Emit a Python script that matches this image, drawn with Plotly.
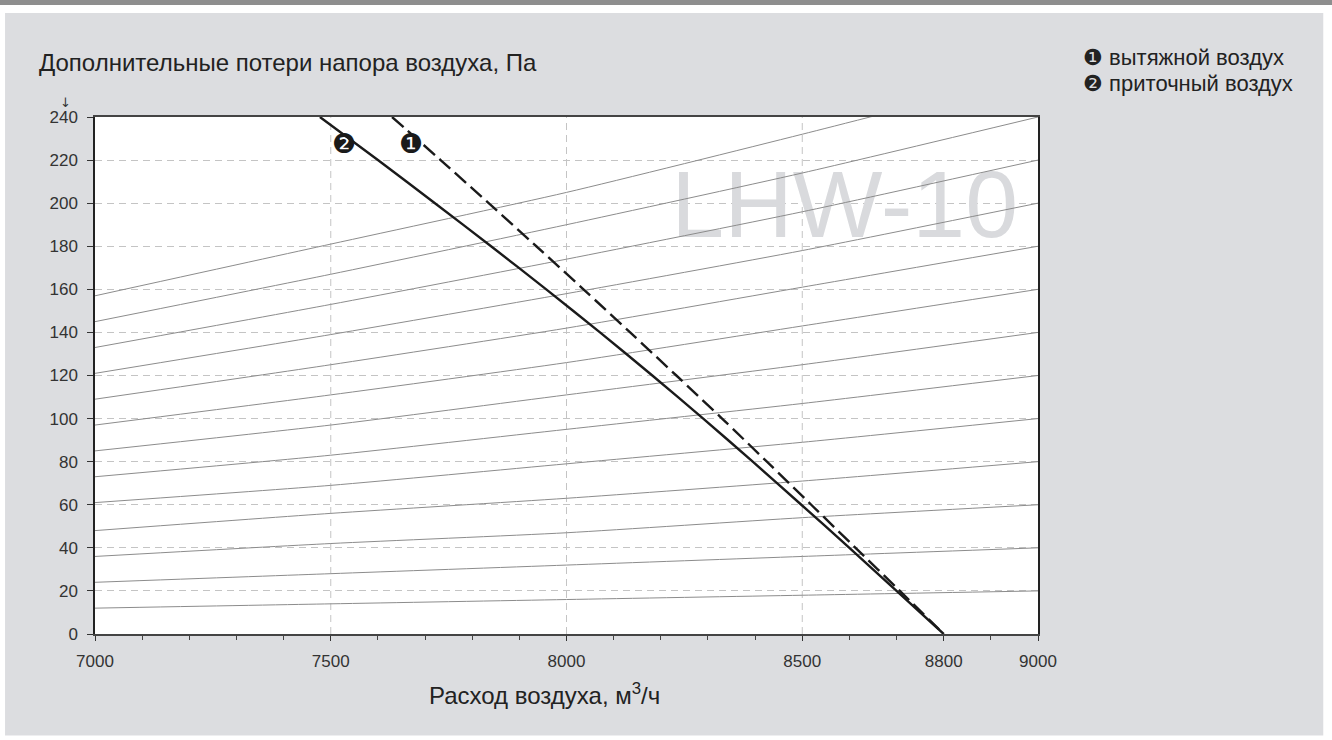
import numpy as np
import plotly.graph_objects as go

# ---------------- data ----------------
# Pressure levels (Pa) at which the two fan curves were read
P_LEVELS = [240, 220, 200, 180, 160, 140, 120, 100, 80, 60, 40, 20, 0]
# Curve 1: exhaust air (dashed) - air flow m3/h at each pressure level
Q_EXHAUST = [7630, 7733, 7835, 7936, 8036, 8135, 8233, 8330, 8425, 8519, 8613, 8707, 8800]
# Curve 2: supply air (solid)
Q_SUPPLY = [7477, 7600, 7721, 7840, 7957, 8071, 8182, 8290, 8395, 8498, 8600, 8700, 8800]

# Thin grey system curves, read at these air flows
Q_SYS = [7000, 7500, 8000, 8500, 9000]
SYSTEM_CURVES = [
    [12, 14, 16, 18, 20],
    [24, 28, 32, 36, 40],
    [36, 42, 47, 54, 60],
    [48, 56, 63, 71, 80],
    [61, 69, 79, 89, 100],
    [73, 83, 95, 107, 120],
    [85, 97, 111, 125, 140],
    [97, 111, 126, 143, 160],
    [109, 125, 142, 161, 180],
    [121, 139, 158, 178, 200],
    [133, 153, 174, 196, 220],
    [145, 167, 190, 214, 240],
    [157, 181, 205, 232, 260],
]

X_TICKS = [7000, 7500, 8000, 8500, 8800, 9000]
X_GRID = [7500, 8000, 8500]
Y_TICKS = list(range(0, 241, 20))

TITLE_Y = "Дополнительные потери напора воздуха, Па"
TITLE_X = "Расход воздуха, м<sup>3</sup>/ч"
LEGEND = ["❶ вытяжной воздух", "❷ приточный воздух"]
WATERMARK = "LHW-10"
LABEL_P = 227.8  # pressure level at which the curve numbers sit

FONT = "Liberation Sans, Arial, Helvetica, sans-serif"
PANEL = "#dcdde0"

fig = go.Figure()

# watermark (under everything)
fig.add_trace(go.Scatter(
    x=[8590], y=[195.5], mode="text", text=[WATERMARK],
    textfont=dict(family=FONT, size=95, color="#d9dadd"),
    hoverinfo="skip", showlegend=False))

# system curves
for vals in SYSTEM_CURVES:
    fig.add_trace(go.Scatter(
        x=Q_SYS, y=vals, mode="lines",
        line=dict(color="#8c8c8c", width=1, shape="spline", smoothing=0.6),
        hoverinfo="skip", showlegend=False))

# fan curves
fig.add_trace(go.Scatter(
    x=Q_SUPPLY, y=P_LEVELS, mode="lines", name="приточный воздух",
    line=dict(color="#1a1a1a", width=2.4, shape="spline", smoothing=0.8),
    showlegend=False))
fig.add_trace(go.Scatter(
    x=Q_EXHAUST, y=P_LEVELS, mode="lines", name="вытяжной воздух",
    line=dict(color="#1a1a1a", width=2.4, dash="15px,6px", shape="spline", smoothing=0.8),
    showlegend=False))

# curve number labels, placed on the curves
p_rev = P_LEVELS[::-1]
for qs, txt in [(Q_SUPPLY, "❷"), (Q_EXHAUST, "❶")]:
    qx = float(np.interp(LABEL_P, p_rev, qs[::-1]))
    fig.add_annotation(x=qx, y=LABEL_P, text=txt, showarrow=False, xshift=-11,
                       font=dict(family="DejaVu Sans", size=27, color="#1a1a1a"))

# vertical dashed grid lines
for gx in X_GRID:
    fig.add_shape(type="line", x0=gx, x1=gx, y0=0, y1=240, xref="x", yref="y",
                  line=dict(color="#c4c4c4", width=1, dash="7px,5px"), layer="below")

# white outer border and dark top bar around the grey panel
for (x0, x1, y0, y1, c) in [
    (-0.2, 1.5, 1.2164, 1.3, "#8e8e8e"),
    (-0.2, 1.5, 1.201, 1.2164, "#ffffff"),
    (-0.2, -0.0954, -0.3, 1.2164, "#ffffff"),
    (1.3025, 1.5, -0.3, 1.2164, "#ffffff"),
    (-0.2, 1.5, -0.3, -0.1962, "#ffffff"),
]:
    fig.add_shape(type="rect", xref="paper", yref="paper", x0=x0, x1=x1, y0=y0, y1=y1,
                  line=dict(width=0), fillcolor=c, layer="below")

# titles
fig.add_annotation(xref="paper", yref="paper", x=-0.0615, y=1.106, xanchor="left", yanchor="middle",
                   text=TITLE_Y, showarrow=False, font=dict(family=FONT, size=24, color="#222"))
fig.add_annotation(xref="paper", yref="paper", x=-0.0308, y=1.029, xanchor="center", yanchor="middle",
                   text="↓", showarrow=False, font=dict(family="DejaVu Sans", size=13, color="#333333"))
fig.add_annotation(xref="paper", yref="paper", x=0.477, y=-0.116, xanchor="center", yanchor="middle",
                   text=TITLE_X, showarrow=False, font=dict(family=FONT, size=24, color="#222"))
for i, t in enumerate(LEGEND):
    fig.add_annotation(xref="paper", yref="paper", x=1.0456, y=1.1150 - i * 0.0500,
                       xanchor="left", yanchor="middle", text=t, showarrow=False,
                       font=dict(family=FONT, size=22, color="#222"))

fig.update_layout(
    width=1332, height=740,
    margin=dict(l=95, r=294, t=117, b=106),
    paper_bgcolor=PANEL, plot_bgcolor="#ffffff",
    font=dict(family=FONT, color="#333"),
    showlegend=False,
)
fig.update_xaxes(
    range=[7000, 9000], tickvals=X_TICKS, ticktext=[str(v) for v in X_TICKS],
    showgrid=False, zeroline=False,
    ticks="outside", ticklen=5, tickwidth=1.2, tickcolor="#333", ticklabelstandoff=6,
    minor=dict(dtick=100, tick0=7000, ticks="outside", ticklen=4, tickwidth=1, tickcolor="#444", showgrid=False),
    showline=True, linecolor="#444", linewidth=2, mirror=True,
    tickfont=dict(family=FONT, size=17, color="#333"),
)
fig.update_yaxes(
    range=[0, 240], tickvals=Y_TICKS,
    showgrid=True, gridcolor="#c4c4c4", gridwidth=1, griddash="7px,5px", zeroline=False,
    ticks="outside", ticklen=6, tickwidth=1.2, tickcolor="#333", ticklabelstandoff=6,
    showline=True, linecolor="#222", linewidth=1.5, mirror=True,
    tickfont=dict(family=FONT, size=17, color="#333"),
)

fig.write_html("out.html", config={"displayModeBar": False},
               post_script="document.body.style.margin='0';")
